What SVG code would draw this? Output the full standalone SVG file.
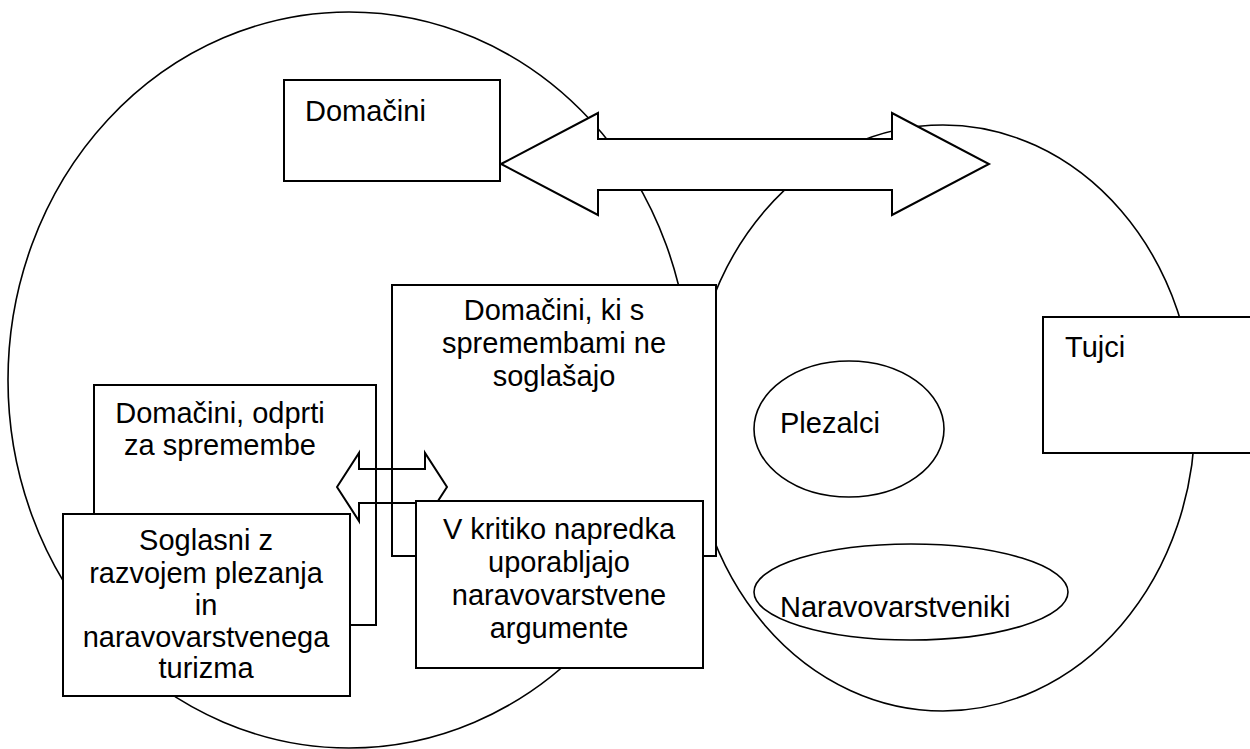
<svg xmlns="http://www.w3.org/2000/svg" width="1250" height="749" viewBox="0 0 1250 749">
<style>
.bg{fill:#ffffff}
.circ{fill:none;stroke:#000;stroke-width:1.6}
.box{fill:#ffffff;stroke:#000;stroke-width:2}
.ell{fill:#ffffff;stroke:#000;stroke-width:1.6}
.arr{stroke:#000;stroke-width:2;stroke-linejoin:miter}
text{font-family:"Liberation Sans",Arial,sans-serif;font-size:29px;fill:#000}
.c{text-anchor:middle}
</style>
<rect class="bg" x="0" y="0" width="1250" height="749"/>
<g id="group-domacini">
  <ellipse class="circ" cx="349" cy="380" rx="341" ry="368"/>
</g>
<g id="group-tujci">
  <ellipse class="circ" cx="943" cy="418" rx="252" ry="293"/>
</g>
<g id="node-domacini">
  <rect class="box" x="284" y="80" width="216" height="101"/>
  <text x="305" y="121">Domačini</text>
</g>
<g id="connectors">
  <polygon id="conn-main" class="arr" fill="#ffffff" points="501,164 598,113 598,139 892,139 892,113 989,164 892,215 892,190 598,190 598,215"/>
</g>
<g id="node-ne-soglasajo">
  <rect class="box" x="392" y="285" width="324" height="271"/>
  <text class="c" x="554" y="320">Domačini, ki s</text>
  <text class="c" x="554" y="353">spremembami ne</text>
  <text class="c" x="554" y="386">soglašajo</text>
</g>
<g id="node-odprti">
  <rect class="box" x="94" y="385" width="282" height="240"/>
  <text class="c" x="220" y="423">Domačini, odprti</text>
  <text class="c" x="220" y="455">za spremembe</text>
</g>
<g id="connectors-small">
  <polygon id="conn-small" class="arr" fill="none" points="337,487 359,453 359,469 425,469 425,453 447,487 425,521 425,503 359,503 359,521"/>
</g>
<g id="node-soglasni">
  <rect class="box" x="63" y="514" width="287" height="182"/>
  <text class="c" x="206" y="550">Soglasni z</text>
  <text class="c" x="206" y="583">razvojem plezanja</text>
  <text class="c" x="206" y="615">in</text>
  <text class="c" x="206" y="647">naravovarstvenega</text>
  <text class="c" x="206" y="678">turizma</text>
</g>
<g id="node-kritika">
  <rect class="box" x="416" y="501" width="287" height="167"/>
  <text class="c" x="559" y="539">V kritiko napredka</text>
  <text class="c" x="559" y="572">uporabljajo</text>
  <text class="c" x="559" y="605">naravovarstvene</text>
  <text class="c" x="559" y="638">argumente</text>
</g>
<g id="node-tujci">
  <rect class="box" x="1043" y="317" width="220" height="136"/>
  <text x="1065" y="357">Tujci</text>
</g>
<g id="node-plezalci">
  <ellipse class="ell" cx="849" cy="429" rx="95" ry="68"/>
  <text x="780" y="433">Plezalci</text>
</g>
<g id="node-naravovarstveniki">
  <ellipse class="ell" cx="911" cy="592" rx="157" ry="48"/>
  <text x="780" y="617">Naravovarstveniki</text>
</g>
</svg>
